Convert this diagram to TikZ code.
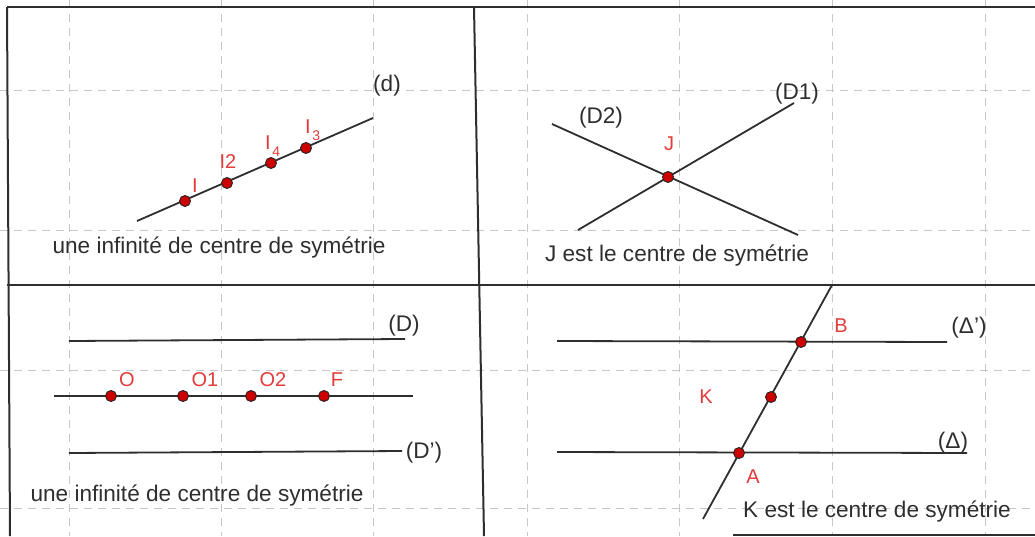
\documentclass[tikz,border=0pt]{standalone}
\usepackage{fontspec}
\setmainfont{Liberation Sans}
\usepackage{xcolor}
\usepackage{tikz}
\usetikzlibrary{positioning,calc}

\definecolor{ptred}{HTML}{CC0000}
\definecolor{lblred}{HTML}{E23B3B}
\definecolor{ink}{HTML}{2E2E2E}
\newcommand{\subidx}[1]{\kern1.5pt\raisebox{-7pt}{\fontsize{14}{14}\selectfont #1}}

\begin{document}
\begin{tikzpicture}[
    x=1pt, y=-1pt,
    every node/.style={font=\fontsize{22.6}{26}\selectfont, text=ink, inner sep=0pt},
    gridline/.style={draw=gray!45, line width=1pt, dash pattern=on 8pt off 6pt},
    panel/.style={draw=ink, line width=2pt},
    droite/.style={draw=ink, line width=1.8pt},
    dot/.style={
        circle,
        fill=ptred,
        draw=black!85,
        line width=0.9pt,
        minimum size=11pt
    },
    lbl/.style={text=lblred, font=\fontsize{20}{24}\selectfont, anchor=base},
    dname/.style={anchor=center},
    caption/.style={anchor=base}
]
\useasboundingbox (0,0) rectangle (1035,536);

%% ── Dashed grid ───────────────────────────────────────
\foreach \gx in {69,221,373,527,679,832,985}{
    \draw[gridline] (\gx,0) -- (\gx,536);
}
\foreach \gy in {90,230,370,508}{
    \draw[gridline] (0,\gy) -- (1035,\gy);
}

%% ── Panel frame ───────────────────────────────────────
\draw[panel] (7,7) -- (1035,7);
\draw[panel] (7,7) -- (10,536);
\draw[panel] (7,285) -- (1035,285);
\draw[panel] (474,7) -- (484,536);
\draw[panel] (733,535) -- (1035,535);

%% ── Panel 1 : line (d) ────────────────────────────────
\coordinate (d1) at (137,221);
\coordinate (d2) at (373,118);
\draw[droite] (d1) -- (d2);
\node[dot] (i1) at (185,201) {};
\node[dot] (i2) at (227,183) {};
\node[dot] (i4) at (271,163) {};
\node[dot] (i3) at (306,148) {};
\node[lbl] (li1) at (195,192) {I};
\node[lbl] (li2) at (228,168) {I2};
\node[lbl, anchor=base west] (li4) at (265,149) {I\subidx{4}};
\node[lbl, anchor=base west] (li3) at (305,133) {I\subidx{3}};
\node[dname] (ld) at (387,86) {(d)};
\node[caption] (t1) at (219,253) {une infinité de centre de symétrie};

%% ── Panel 2 : (D1) and (D2) ───────────────────────────
\coordinate (da1) at (578,230);
\coordinate (da2) at (794,103);
\coordinate (db1) at (552,124);
\coordinate (db2) at (798,235);
\draw[droite] (da1) -- (da2);
\draw[droite] (db1) -- (db2);
\node[dot] (j) at (668,177) {};
\node[lbl] (lj) at (669,150) {J};
\node[dname] (ld1) at (797,94) {(D1)};
\node[dname] (ld2) at (601,118) {(D2)};
\node[caption] (t2) at (677,261) {J est le centre de symétrie};

%% ── Panel 3 : (D), (D') and the middle line ───────────
\coordinate (dd1) at (69,341);
\coordinate (dd2) at (405,339);
\coordinate (dm1) at (54,396);
\coordinate (dm2) at (413,396);
\coordinate (dp1) at (69,453);
\coordinate (dp2) at (402,451);
\draw[droite] (dd1) -- (dd2);
\draw[droite] (dm1) -- (dm2);
\draw[droite] (dp1) -- (dp2);
\node[dot] (o) at (111,396) {};
\node[dot] (o1) at (183,396) {};
\node[dot] (o2) at (251,396) {};
\node[dot] (f) at (324,396) {};
\node[lbl] (lo) at (127,386) {O};
\node[lbl] (lo1) at (205,386) {O1};
\node[lbl] (lo2) at (273,386) {O2};
\node[lbl] (lf) at (337,386) {F};
\node[dname] (ldd) at (404,326) {(D)};
\node[dname] (ldp) at (424,453) {(D')};
\node[caption] (t3) at (197,501) {une infinité de centre de symétrie};

%% ── Panel 4 : (Δ), (Δ') and the secant ────────────────
\coordinate (s1) at (832,285);
\coordinate (s2) at (703,519);
\coordinate (dl1) at (557,341);
\coordinate (dl2) at (947,342);
\coordinate (dk1) at (557,452);
\coordinate (dk2) at (967,453);
\draw[droite] (s1) -- (s2);
\draw[droite] (dl1) -- (dl2);
\draw[droite] (dk1) -- (dk2);
\node[dot] (b) at (801,342) {};
\node[dot] (k) at (771,397) {};
\node[dot] (a) at (739,453) {};
\node[lbl] (lb) at (841,332) {B};
\node[lbl] (lk) at (706,403) {K};
\node[lbl] (la) at (753,483) {A};
\node[dname] (ldl) at (969,328) {(Δ')};
\node[dname] (ldk) at (953,443) {(Δ)};
\node[caption] (t4) at (877,517) {K est le centre de symétrie};

\end{tikzpicture}
\end{document}
